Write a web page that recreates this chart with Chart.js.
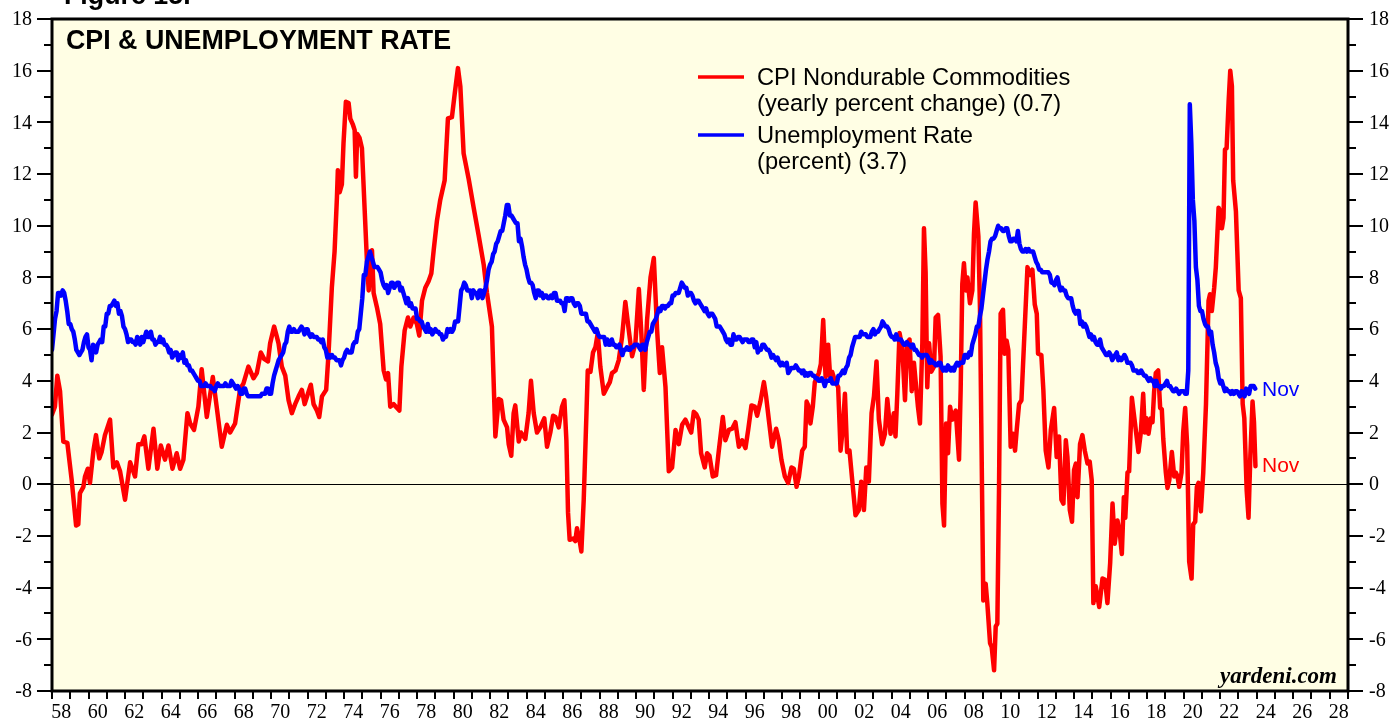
<!DOCTYPE html>
<html>
<head>
<meta charset="utf-8">
<title>CPI &amp; Unemployment Rate</title>
<script src="https://cdn.jsdelivr.net/npm/chart.js@4.4.0/dist/chart.umd.min.js"></script>
<style>
  html, body { margin: 0; padding: 0; background: #fff; }
  #wrap { width: 1394px; height: 721px; }
</style>
</head>
<body>
<div id="wrap"><canvas id="chart" width="1394" height="721"></canvas></div>
<script>
// ---- Data ----

// Unemployment rate, monthly, first value is Dec 1957 (plotted at month end)
const unempStartYear = 1958;
const unempRate = [
  5.2,
  5.8, 6.4, 6.7, 7.4, 7.4, 7.3, 7.5, 7.4, 7.1, 6.7, 6.2, 6.2,   // 58
  6.0, 5.9, 5.6, 5.2, 5.1, 5.0, 5.1, 5.2, 5.5, 5.7, 5.8, 5.3,   // 59
  5.2, 4.8, 5.4, 5.2, 5.1, 5.4, 5.5, 5.6, 5.5, 6.1, 6.1, 6.6,   // 60
  6.6, 6.9, 6.9, 7.0, 7.1, 6.9, 7.0, 6.6, 6.7, 6.5, 6.1, 6.0,   // 61
  5.8, 5.5, 5.6, 5.6, 5.5, 5.5, 5.4, 5.7, 5.6, 5.4, 5.7, 5.5,   // 62
  5.7, 5.9, 5.7, 5.7, 5.9, 5.6, 5.6, 5.4, 5.5, 5.5, 5.7, 5.5,   // 63
  5.6, 5.4, 5.4, 5.3, 5.1, 5.2, 4.9, 5.0, 5.1, 5.1, 4.8, 5.0,   // 64
  4.9, 5.1, 4.7, 4.8, 4.6, 4.6, 4.4, 4.4, 4.3, 4.2, 4.1, 4.0,   // 65
  4.0, 3.8, 3.8, 3.8, 3.9, 3.8, 3.8, 3.8, 3.7, 3.7, 3.6, 3.8,   // 66
  3.9, 3.8, 3.8, 3.8, 3.8, 3.9, 3.8, 3.8, 3.8, 4.0, 3.9, 3.8,   // 67
  3.7, 3.8, 3.7, 3.5, 3.5, 3.7, 3.7, 3.5, 3.4, 3.4, 3.4, 3.4,   // 68
  3.4, 3.4, 3.4, 3.4, 3.4, 3.5, 3.5, 3.5, 3.7, 3.7, 3.5, 3.5,   // 69
  3.9, 4.2, 4.4, 4.6, 4.8, 4.9, 5.0, 5.1, 5.4, 5.5, 5.9, 6.1,   // 70
  5.9, 5.9, 6.0, 5.9, 5.9, 5.9, 6.0, 6.1, 6.0, 5.8, 6.0, 6.0,   // 71
  5.8, 5.7, 5.8, 5.7, 5.7, 5.7, 5.6, 5.6, 5.5, 5.6, 5.3, 5.2,   // 72
  4.9, 5.0, 4.9, 5.0, 4.9, 4.9, 4.8, 4.8, 4.8, 4.6, 4.8, 4.9,   // 73
  5.1, 5.2, 5.1, 5.1, 5.1, 5.4, 5.5, 5.5, 5.9, 6.0, 6.6, 7.2,   // 74
  8.1, 8.1, 8.6, 8.8, 9.0, 8.8, 8.6, 8.4, 8.4, 8.4, 8.3, 8.2,   // 75
  7.9, 7.7, 7.6, 7.7, 7.4, 7.6, 7.8, 7.8, 7.6, 7.7, 7.8, 7.8,   // 76
  7.5, 7.6, 7.4, 7.2, 7.0, 7.2, 6.9, 7.0, 6.8, 6.8, 6.8, 6.4,   // 77
  6.4, 6.3, 6.3, 6.1, 6.0, 5.9, 6.2, 5.9, 6.0, 5.8, 5.9, 6.0,   // 78
  5.9, 5.9, 5.8, 5.8, 5.6, 5.7, 5.7, 6.0, 5.9, 6.0, 5.9, 6.0,   // 79
  6.3, 6.3, 6.3, 6.9, 7.5, 7.6, 7.8, 7.7, 7.5, 7.5, 7.5, 7.2,   // 80
  7.5, 7.4, 7.4, 7.2, 7.5, 7.5, 7.2, 7.4, 7.6, 7.9, 8.3, 8.5,   // 81
  8.6, 8.9, 9.0, 9.3, 9.4, 9.6, 9.8, 9.8, 10.1, 10.4, 10.8, 10.8, // 82
  10.4, 10.4, 10.3, 10.2, 10.1, 10.1, 9.4, 9.5, 9.2, 8.8, 8.5, 8.3, // 83
  8.0, 7.8, 7.8, 7.7, 7.4, 7.2, 7.5, 7.5, 7.3, 7.4, 7.2, 7.3,   // 84
  7.3, 7.2, 7.2, 7.3, 7.2, 7.4, 7.4, 7.1, 7.1, 7.1, 7.0, 7.0,   // 85
  6.7, 7.2, 7.2, 7.1, 7.2, 7.2, 7.0, 6.9, 7.0, 7.0, 6.9, 6.6,   // 86
  6.6, 6.6, 6.6, 6.3, 6.3, 6.2, 6.1, 6.0, 5.9, 6.0, 5.8, 5.7,   // 87
  5.7, 5.7, 5.7, 5.4, 5.6, 5.4, 5.4, 5.6, 5.4, 5.4, 5.3, 5.3,   // 88
  5.4, 5.2, 5.0, 5.2, 5.2, 5.3, 5.2, 5.2, 5.3, 5.3, 5.4, 5.4,   // 89
  5.4, 5.3, 5.2, 5.4, 5.4, 5.2, 5.5, 5.7, 5.9, 5.9, 6.2, 6.3,   // 90
  6.4, 6.6, 6.8, 6.7, 6.9, 6.9, 6.8, 6.9, 6.9, 7.0, 7.0, 7.3,   // 91
  7.3, 7.4, 7.4, 7.4, 7.6, 7.8, 7.7, 7.6, 7.6, 7.3, 7.4, 7.4,   // 92
  7.3, 7.1, 7.0, 7.1, 7.1, 7.0, 6.9, 6.8, 6.7, 6.8, 6.6, 6.5,   // 93
  6.6, 6.6, 6.5, 6.4, 6.1, 6.1, 6.1, 6.0, 5.9, 5.8, 5.6, 5.5,   // 94
  5.6, 5.4, 5.4, 5.8, 5.6, 5.6, 5.7, 5.7, 5.6, 5.5, 5.6, 5.6,   // 95
  5.6, 5.5, 5.5, 5.6, 5.6, 5.3, 5.5, 5.1, 5.2, 5.2, 5.4, 5.4,   // 96
  5.3, 5.2, 5.2, 5.1, 4.9, 5.0, 4.9, 4.8, 4.9, 4.7, 4.6, 4.7,   // 97
  4.6, 4.6, 4.7, 4.3, 4.4, 4.5, 4.5, 4.5, 4.6, 4.5, 4.4, 4.4,   // 98
  4.3, 4.4, 4.2, 4.3, 4.2, 4.3, 4.3, 4.2, 4.2, 4.1, 4.1, 4.0,   // 99
  4.0, 4.1, 4.0, 3.8, 4.0, 4.0, 4.0, 4.1, 3.9, 3.9, 3.9, 3.9,   // 00
  4.2, 4.2, 4.3, 4.4, 4.3, 4.5, 4.6, 4.9, 5.0, 5.3, 5.5, 5.7,   // 01
  5.7, 5.7, 5.7, 5.9, 5.8, 5.8, 5.8, 5.7, 5.7, 5.7, 5.9, 6.0,   // 02
  5.8, 5.9, 5.9, 6.0, 6.1, 6.3, 6.2, 6.1, 6.1, 6.0, 5.8, 5.7,   // 03
  5.7, 5.6, 5.8, 5.6, 5.6, 5.6, 5.5, 5.4, 5.4, 5.5, 5.4, 5.4,   // 04
  5.3, 5.4, 5.2, 5.2, 5.1, 5.0, 5.0, 4.9, 5.0, 5.0, 5.0, 4.9,   // 05
  4.7, 4.8, 4.7, 4.7, 4.6, 4.6, 4.7, 4.7, 4.5, 4.4, 4.5, 4.4,   // 06
  4.6, 4.5, 4.4, 4.5, 4.4, 4.6, 4.7, 4.6, 4.7, 4.7, 4.7, 5.0,   // 07
  5.0, 4.9, 5.1, 5.0, 5.4, 5.6, 5.8, 6.1, 6.1, 6.5, 6.8, 7.3,   // 08
  7.8, 8.3, 8.7, 9.0, 9.4, 9.5, 9.5, 9.6, 9.8, 10.0, 9.9, 9.9,  // 09
  9.8, 9.8, 9.9, 9.9, 9.6, 9.4, 9.4, 9.5, 9.5, 9.4, 9.8, 9.3,   // 10
  9.1, 9.0, 9.0, 9.1, 9.0, 9.1, 9.0, 9.0, 9.0, 8.8, 8.6, 8.5,   // 11
  8.3, 8.3, 8.2, 8.2, 8.2, 8.2, 8.2, 8.1, 7.8, 7.8, 7.7, 7.9,   // 12
  8.0, 7.7, 7.5, 7.6, 7.5, 7.5, 7.3, 7.2, 7.2, 7.2, 6.9, 6.7,   // 13
  6.6, 6.7, 6.7, 6.2, 6.3, 6.1, 6.2, 6.1, 5.9, 5.7, 5.8, 5.6,   // 14
  5.7, 5.5, 5.4, 5.4, 5.6, 5.3, 5.2, 5.1, 5.0, 5.0, 5.1, 5.0,   // 15
  4.8, 4.9, 5.0, 5.1, 4.8, 4.9, 4.8, 4.9, 5.0, 4.9, 4.7, 4.7,   // 16
  4.7, 4.6, 4.4, 4.4, 4.4, 4.3, 4.3, 4.4, 4.3, 4.2, 4.2, 4.1,   // 17
  4.0, 4.1, 4.0, 4.0, 3.8, 4.0, 3.8, 3.8, 3.7, 3.8, 3.8, 3.9,   // 18
  4.0, 3.8, 3.8, 3.7, 3.6, 3.6, 3.7, 3.6, 3.5, 3.6, 3.6, 3.6,   // 19
  3.5, 3.5, 4.4, 14.7, 13.2, 11.0, 10.2, 8.4, 7.9, 6.9, 6.7, 6.7, // 20
  6.4, 6.2, 6.1, 6.1, 5.8, 5.9, 5.4, 5.1, 4.7, 4.5, 4.1, 3.9,   // 21
  4.0, 3.8, 3.6, 3.7, 3.6, 3.6, 3.5, 3.6, 3.5, 3.6, 3.6, 3.5,   // 22
  3.4, 3.6, 3.5, 3.4, 3.7, 3.6, 3.5, 3.8, 3.8, 3.8, 3.7          // 23 (to Nov)
];

// CPI nondurable commodities, yearly % change: [decimal year, value]
const cpiNondurables = [
  [1958.00, 2.7], [1958.16, 3.0], [1958.29, 4.2], [1958.44, 3.6], [1958.62, 1.65], [1958.84, 1.6],
  [1959.08, 0.15], [1959.32, -1.6], [1959.44, -1.55], [1959.53, -0.35], [1959.72, -0.1], [1959.81, 0.3],
  [1959.96, 0.6], [1960.08, 0.05], [1960.27, 1.3], [1960.41, 1.9], [1960.59, 1.0], [1960.72, 1.25],
  [1960.90, 1.9], [1961.18, 2.5], [1961.36, 0.65], [1961.55, 0.85], [1961.73, 0.5], [1962.00, -0.6],
  [1962.28, 0.85], [1962.55, 0.3], [1962.73, 1.55], [1962.92, 1.55], [1963.06, 1.85], [1963.28, 0.6],
  [1963.56, 2.15], [1963.77, 0.6], [1963.96, 1.5], [1964.19, 0.95], [1964.38, 1.5], [1964.60, 0.6],
  [1964.83, 1.2], [1965.02, 0.6], [1965.20, 0.95], [1965.42, 2.75], [1965.57, 2.35], [1965.78, 2.1],
  [1966.02, 3.0], [1966.20, 4.45], [1966.48, 2.6], [1966.81, 4.15], [1967.03, 2.95], [1967.30, 1.45],
  [1967.58, 2.3], [1967.76, 2.0], [1968.03, 2.35], [1968.31, 3.7], [1968.49, 3.9], [1968.76, 4.55],
  [1969.04, 4.1], [1969.22, 4.3], [1969.44, 5.1], [1969.62, 4.85], [1969.83, 4.75], [1969.95, 5.45],
  [1970.17, 6.1], [1970.32, 5.7], [1970.41, 5.45], [1970.59, 4.55], [1970.78, 4.2], [1970.96, 3.25],
  [1971.14, 2.75], [1971.32, 3.1], [1971.51, 3.4], [1971.69, 3.65], [1971.84, 3.1], [1972.02, 3.5],
  [1972.18, 3.85], [1972.33, 3.1], [1972.51, 2.85], [1972.64, 2.6], [1972.79, 3.4], [1973.02, 3.65],
  [1973.15, 5.05], [1973.33, 7.6], [1973.48, 9.0], [1973.61, 11.1], [1973.66, 12.15], [1973.76, 11.3],
  [1973.88, 11.6], [1973.97, 13.2], [1974.10, 14.8], [1974.25, 14.75], [1974.34, 14.15], [1974.49, 13.9],
  [1974.58, 13.7], [1974.65, 11.9], [1974.72, 13.55], [1974.85, 13.4], [1974.98, 13.0], [1975.13, 10.6],
  [1975.25, 8.7], [1975.35, 7.5], [1975.44, 8.7], [1975.53, 9.05], [1975.62, 7.4], [1975.80, 6.85],
  [1975.98, 6.2], [1976.17, 4.4], [1976.30, 4.05], [1976.41, 4.3], [1976.53, 3.0], [1976.72, 3.1],
  [1976.84, 3.0], [1977.03, 2.85], [1977.14, 4.55], [1977.32, 5.95], [1977.50, 6.45], [1977.63, 6.1],
  [1977.81, 6.45], [1977.99, 6.2], [1978.12, 5.75], [1978.27, 7.1], [1978.45, 7.6], [1978.63, 7.85],
  [1978.78, 8.15], [1978.91, 9.05], [1979.09, 10.2], [1979.27, 11.0], [1979.51, 11.75], [1979.69, 14.15],
  [1979.91, 14.2], [1980.06, 15.1], [1980.24, 16.1], [1980.37, 15.4], [1980.55, 12.8], [1980.83, 11.8],
  [1981.10, 10.7], [1981.38, 9.6], [1981.65, 8.5], [1981.83, 7.4], [1982.10, 6.1], [1982.29, 1.85],
  [1982.47, 3.3], [1982.60, 3.25], [1982.74, 2.5], [1982.93, 2.2], [1983.02, 1.55], [1983.16, 1.1],
  [1983.29, 2.75], [1983.38, 3.05], [1983.57, 1.65], [1983.69, 2.0], [1983.93, 1.75], [1984.11, 2.75],
  [1984.24, 4.0], [1984.39, 2.75], [1984.57, 2.0], [1984.75, 2.2], [1984.97, 2.55], [1985.12, 1.45],
  [1985.30, 2.0], [1985.45, 2.65], [1985.58, 2.6], [1985.76, 2.2], [1985.94, 3.0], [1986.07, 3.25],
  [1986.18, 1.7], [1986.27, -1.1], [1986.36, -2.15], [1986.55, -2.1], [1986.67, -2.2], [1986.76, -1.7],
  [1986.91, -2.2], [1987.00, -2.6], [1987.13, -0.6], [1987.28, 2.75], [1987.35, 4.4], [1987.50, 4.35],
  [1987.64, 5.1], [1987.77, 5.3], [1987.90, 5.85], [1988.04, 4.55], [1988.23, 3.5], [1988.41, 3.75],
  [1988.56, 3.95], [1988.68, 4.3], [1988.87, 4.4], [1989.05, 4.8], [1989.23, 5.7], [1989.41, 7.05],
  [1989.60, 5.95], [1989.78, 4.95], [1989.96, 5.45], [1990.15, 7.55], [1990.29, 5.8], [1990.42, 3.65],
  [1990.60, 6.35], [1990.79, 8.0], [1990.97, 8.75], [1991.15, 5.95], [1991.30, 4.3], [1991.42, 5.3],
  [1991.61, 3.75], [1991.79, 0.5], [1991.97, 0.65], [1992.16, 2.1], [1992.34, 1.55], [1992.52, 2.3],
  [1992.70, 2.5], [1992.89, 2.2], [1993.02, 2.0], [1993.16, 2.8], [1993.30, 2.7], [1993.43, 2.5],
  [1993.56, 1.2], [1993.76, 0.65], [1993.89, 1.2], [1994.02, 1.1], [1994.20, 0.3], [1994.38, 0.35],
  [1994.53, 1.3], [1994.75, 2.6], [1994.89, 1.7], [1995.08, 2.1], [1995.26, 2.15], [1995.44, 2.4],
  [1995.63, 1.45], [1995.81, 1.7], [1995.99, 1.4], [1996.14, 2.1], [1996.32, 3.05], [1996.50, 3.0],
  [1996.63, 2.65], [1996.81, 3.2], [1997.00, 3.95], [1997.12, 3.4], [1997.27, 2.5], [1997.45, 1.45],
  [1997.67, 2.15], [1997.82, 1.7], [1997.96, 0.95], [1998.15, 0.3], [1998.33, 0.05], [1998.51, 0.65],
  [1998.64, 0.6], [1998.79, -0.1], [1998.92, 0.3], [1999.10, 1.3], [1999.24, 1.45], [1999.34, 3.2],
  [1999.43, 3.05], [1999.55, 2.35], [1999.68, 3.0], [1999.79, 3.95], [2000.01, 4.3], [2000.12, 4.65],
  [2000.25, 6.35], [2000.38, 4.15], [2000.52, 5.4], [2000.63, 4.15], [2000.74, 4.35], [2000.89, 4.0],
  [2001.07, 3.75], [2001.20, 1.3], [2001.33, 2.2], [2001.44, 3.5], [2001.56, 1.25], [2001.69, 1.3],
  [2001.84, 0.15], [2002.02, -1.2], [2002.20, -1.0], [2002.33, 0.1], [2002.48, -1.0], [2002.61, 0.65],
  [2002.75, 0.1], [2002.90, 2.75], [2003.03, 3.4], [2003.17, 4.75], [2003.30, 2.5], [2003.48, 1.55],
  [2003.63, 1.95], [2003.76, 3.3], [2003.94, 1.95], [2004.12, 2.75], [2004.21, 1.85], [2004.31, 3.5],
  [2004.43, 5.85], [2004.58, 5.3], [2004.73, 3.25], [2004.85, 5.45], [2004.98, 5.6], [2005.10, 3.6],
  [2005.22, 4.7], [2005.44, 3.0], [2005.55, 2.35], [2005.68, 5.45], [2005.77, 9.9], [2005.86, 8.2],
  [2005.95, 3.75], [2006.05, 5.45], [2006.17, 4.35], [2006.32, 4.55], [2006.41, 6.45], [2006.54, 6.55],
  [2006.68, 4.95], [2006.78, -0.75], [2006.87, -1.6], [2006.98, 2.35], [2007.09, 1.2], [2007.20, 3.0],
  [2007.32, 2.5], [2007.51, 2.85], [2007.69, 0.95], [2007.78, 3.65], [2007.87, 7.75], [2007.96, 8.55],
  [2008.06, 7.5], [2008.15, 8.0], [2008.29, 7.0], [2008.42, 7.5], [2008.51, 9.7], [2008.60, 10.9],
  [2008.75, 9.6], [2008.84, 6.75], [2008.91, 2.35], [2009.02, -4.5], [2009.15, -3.85], [2009.24, -4.6],
  [2009.39, -6.15], [2009.48, -6.3], [2009.61, -7.2], [2009.70, -5.5], [2009.79, -5.4], [2009.88, -0.25],
  [2009.97, 6.6], [2010.10, 6.75], [2010.19, 5.05], [2010.30, 5.55], [2010.39, 5.2], [2010.52, 1.45],
  [2010.65, 1.95], [2010.76, 1.3], [2010.85, 2.1], [2010.98, 3.1], [2011.11, 3.25], [2011.25, 5.45],
  [2011.44, 8.4], [2011.58, 8.1], [2011.71, 8.3], [2011.84, 6.95], [2011.95, 6.6], [2012.02, 5.05],
  [2012.20, 5.0], [2012.31, 3.65], [2012.44, 1.3], [2012.59, 0.65], [2012.72, 2.1], [2012.90, 2.95],
  [2013.04, 1.05], [2013.17, 1.85], [2013.30, -0.6], [2013.41, -0.75], [2013.54, 1.7], [2013.63, 1.05],
  [2013.76, -1.0], [2013.88, -1.45], [2013.99, 0.55], [2014.09, 0.8], [2014.18, -0.5], [2014.32, 1.55],
  [2014.45, 1.9], [2014.58, 1.3], [2014.73, 0.8], [2014.85, 0.87], [2014.96, 0.15], [2015.05, -4.6],
  [2015.18, -3.95], [2015.37, -4.75], [2015.55, -3.65], [2015.69, -3.7], [2015.82, -4.6], [2015.97, -3.05],
  [2016.10, -0.75], [2016.22, -2.3], [2016.37, -1.4], [2016.50, -1.9], [2016.61, -2.7], [2016.72, -0.5],
  [2016.80, -1.3], [2016.92, 0.45], [2017.01, 0.5], [2017.16, 3.35], [2017.34, 2.3], [2017.52, 1.25],
  [2017.65, 2.0], [2017.78, 3.5], [2017.87, 2.0], [2017.96, 2.55], [2018.07, 1.95], [2018.20, 2.55],
  [2018.29, 2.4], [2018.38, 3.6], [2018.47, 4.3], [2018.60, 4.4], [2018.71, 2.95], [2018.80, 2.9],
  [2018.88, 1.75], [2019.02, 0.45], [2019.11, -0.15], [2019.21, 0.15], [2019.35, 1.25], [2019.48, 0.3],
  [2019.57, 0.45], [2019.66, 0.3], [2019.75, -0.1], [2019.88, 0.45], [2019.97, 2.0], [2020.08, 2.95],
  [2020.19, 1.5], [2020.30, -3.0], [2020.43, -3.65], [2020.52, -1.55], [2020.63, -1.45], [2020.72, -0.1],
  [2020.81, 0.05], [2020.94, -1.05], [2021.07, 0.45], [2021.22, 3.1], [2021.36, 7.1], [2021.44, 7.35],
  [2021.54, 6.7], [2021.67, 7.6], [2021.76, 8.4], [2021.91, 10.7], [2022.00, 10.55], [2022.09, 9.9],
  [2022.18, 10.3], [2022.26, 12.95], [2022.35, 13.0], [2022.46, 14.8], [2022.55, 16.0], [2022.64, 15.4],
  [2022.71, 11.75], [2022.86, 10.55], [2023.01, 7.5], [2023.13, 7.2], [2023.23, 3.1], [2023.32, 2.55],
  [2023.45, -0.25], [2023.55, -1.3], [2023.65, 1.1], [2023.77, 3.2], [2023.85, 2.4], [2023.93, 0.7]
];

// ---- Axis setup ----
const yearMin = 1958;
const yearMax = 2029;
const yTicks = [-8, -6, -4, -2, 0, 2, 4, 6, 8, 10, 12, 14, 16, 18];
const xLabels = ['58', '60', '62', '64', '66', '68', '70', '72', '74', '76', '78', '80', '82', '84',
                 '86', '88', '90', '92', '94', '96', '98', '00', '02', '04', '06', '08', '10', '12',
                 '14', '16', '18', '20', '22', '24', '26', '28'];

const RED = '#ff0000';
const BLUE = '#0000ff';
const PLOT_BG = '#fffee4';
const SERIF = '"Liberation Serif", "Times New Roman", serif';
const SANS = '"Liberation Sans", Arial, sans-serif';

const cpiPoints = cpiNondurables.map(p => ({ x: p[0], y: p[1] }));
const unempPoints = unempRate.map((v, i) => ({ x: unempStartYear + i / 12, y: v }));

// ---- Custom frame, axes and annotations ----
const yardeniFrame = {
  id: 'yardeniFrame',
  beforeDraw(chart) {
    const { ctx, chartArea: a } = chart;
    ctx.save();
    ctx.fillStyle = '#ffffff';
    ctx.fillRect(0, 0, chart.width, chart.height);
    ctx.fillStyle = PLOT_BG;
    ctx.fillRect(a.left, a.top, a.right - a.left, a.bottom - a.top);
    ctx.restore();
  },
  beforeDatasetsDraw(chart) {
    const { ctx, chartArea: a, scales } = chart;
    const y0 = Math.round(scales.y.getPixelForValue(0)) + 0.5;
    ctx.save();
    ctx.strokeStyle = '#000';
    ctx.lineWidth = 1;
    ctx.beginPath();
    ctx.moveTo(a.left, y0);
    ctx.lineTo(a.right, y0);
    ctx.stroke();
    ctx.restore();
  },
  afterDatasetsDraw(chart) {
    const { ctx, chartArea: a, scales } = chart;
    const xs = scales.x, ys = scales.y;
    ctx.save();

    // frame
    ctx.strokeStyle = '#000';
    ctx.lineWidth = 3;
    ctx.strokeRect(a.left, a.top, a.right - a.left, a.bottom - a.top);

    // y ticks both sides (major every 2, minor on odd values)
    ctx.lineWidth = 2;
    for (let v = -8; v <= 18; v++) {
      const py = Math.round(ys.getPixelForValue(v));
      const len = v % 2 === 0 ? 15 : 8;
      ctx.beginPath();
      ctx.moveTo(a.left - len, py);
      ctx.lineTo(a.left, py);
      ctx.moveTo(a.right, py);
      ctx.lineTo(a.right + len, py);
      ctx.stroke();
    }
    ctx.fillStyle = '#000';
    ctx.font = '20px ' + SERIF;
    ctx.textBaseline = 'middle';
    yTicks.forEach(v => {
      const py = ys.getPixelForValue(v);
      ctx.textAlign = 'right';
      ctx.fillText(String(v), a.left - 20, py + 1);
      ctx.textAlign = 'left';
      ctx.fillText(String(v), a.right + 21, py + 1);
    });

    // x ticks every year, labels centred in every other year
    for (let yr = yearMin; yr <= yearMax; yr++) {
      const px = Math.round(xs.getPixelForValue(yr));
      ctx.beginPath();
      ctx.moveTo(px, a.bottom);
      ctx.lineTo(px, a.bottom + 8);
      ctx.stroke();
    }
    ctx.textAlign = 'center';
    ctx.textBaseline = 'alphabetic';
    xLabels.forEach((lab, i) => {
      const px = xs.getPixelForValue(yearMin + 2 * i + 0.5);
      ctx.fillText(lab, px, 718);
    });

    // titles
    ctx.textAlign = 'left';
    ctx.font = 'bold 26.8px ' + SANS;
    ctx.fillText('Figure 15.', 64, 4);
    ctx.fillText('CPI & UNEMPLOYMENT RATE', 66, 49);

    // legend
    ctx.lineWidth = 3.5;
    ctx.strokeStyle = RED;
    ctx.beginPath(); ctx.moveTo(698, 77); ctx.lineTo(744, 77); ctx.stroke();
    ctx.strokeStyle = BLUE;
    ctx.beginPath(); ctx.moveTo(698, 135); ctx.lineTo(744, 135); ctx.stroke();
    ctx.fillStyle = '#000';
    ctx.font = '23.7px ' + SANS;
    ctx.fillText('CPI Nondurable Commodities', 757, 85);
    ctx.fillText('(yearly percent change) (0.7)', 757, 111);
    ctx.fillText('Unemployment Rate', 757, 143);
    ctx.fillText('(percent) (3.7)', 757, 169);

    // latest-month tags
    ctx.font = '21px ' + SANS;
    ctx.fillStyle = BLUE;
    ctx.fillText('Nov', 1262, 396);
    ctx.fillStyle = RED;
    ctx.fillText('Nov', 1262, 472);

    // source
    ctx.fillStyle = '#000';
    ctx.textAlign = 'right';
    ctx.font = 'italic bold 23px ' + SERIF;
    ctx.fillText('yardeni.com', 1337, 683);

    ctx.restore();
  }
};

new Chart(document.getElementById('chart'), {
  type: 'line',
  data: {
    datasets: [
      {
        label: 'Unemployment Rate',
        data: unempPoints,
        borderColor: BLUE,
        borderWidth: 4.5,
        pointRadius: 0,
        tension: 0,
        borderJoinStyle: 'round',
        borderCapStyle: 'round',
        order: 0
      },
      {
        label: 'CPI Nondurable Commodities',
        data: cpiPoints,
        borderColor: RED,
        borderWidth: 4.5,
        pointRadius: 0,
        tension: 0,
        borderJoinStyle: 'round',
        borderCapStyle: 'round',
        order: 1
      }
    ]
  },
  options: {
    responsive: false,
    devicePixelRatio: 1,
    animation: false,
    events: [],
    layout: { padding: { left: 52, top: 19, right: 46, bottom: 30 } },
    scales: {
      x: { type: 'linear', min: yearMin, max: yearMax, display: false },
      y: { type: 'linear', min: -8, max: 18, display: false }
    },
    plugins: {
      legend: { display: false },
      tooltip: { enabled: false }
    }
  },
  plugins: [yardeniFrame]
});
</script>
</body>
</html>
